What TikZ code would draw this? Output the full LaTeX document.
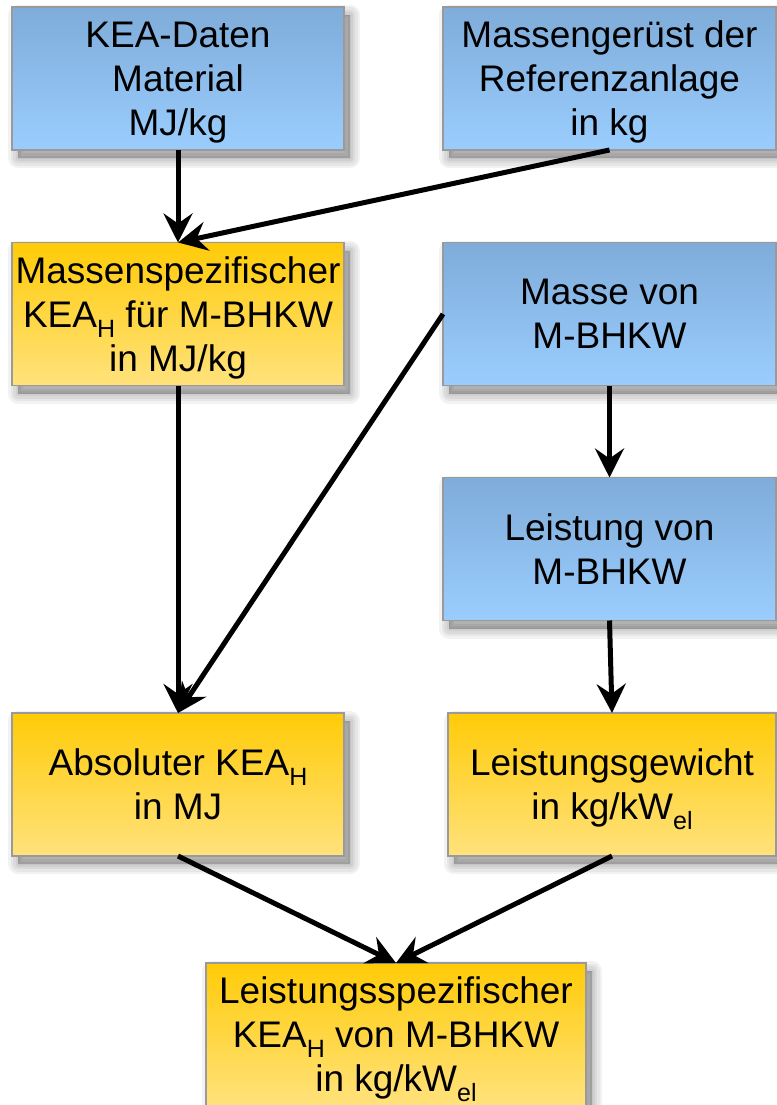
\documentclass[tikz,border=0pt]{standalone}
\usepackage{fontspec}
\setmainfont{Liberation Sans}
\usepackage{tikz}
\usetikzlibrary{arrows.meta}
\usepackage{xcolor}
\definecolor{BlauOben}{HTML}{7FACD9}
\definecolor{BlauUnten}{HTML}{9ACDFE}
\definecolor{GelbOben}{HTML}{FFCB08}
\definecolor{GelbUnten}{HTML}{FFE27C}
\definecolor{Rand}{HTML}{9A9A9A}
\newcommand{\idx}[1]{\raisebox{-10pt}{\fontsize{25}{25}\selectfont #1}}

\tikzset{
    schatten/.style={preaction={draw=black,fill=black,opacity=0.05,line width=#1,line join=round,
        transform canvas={shift={(6pt,-8pt)}}}},
}

\begin{document}
\begin{tikzpicture}[x=1pt,y=-1pt,
    kasten/.style={draw=Rand,line width=1.2pt,minimum height=143pt,inner sep=2pt,outer sep=0pt,
        align=center,font=\fontsize{37}{44}\selectfont,text depth=0pt,
        schatten=0.1pt,schatten=5pt,schatten=10pt,schatten=15pt,schatten=20pt},
    blau/.style={kasten,top color=BlauOben,bottom color=BlauUnten},
    gelb/.style={kasten,top color=GelbOben,bottom color=GelbUnten},
    pfeil/.style={line width=5pt,-{Stealth[length=29pt,width=29pt,inset=10pt]}}]
    \useasboundingbox (0,0) rectangle (776,1105);

    % Eingangsdaten
    \node[blau,minimum width=332pt] (kea) at (178,78.5) {KEA-Daten\\Material\\MJ/kg};
    \node[blau,minimum width=333pt] (geruest) at (609.5,78.5) {Massengerüst der\\Referenzanlage\\in kg};

    \node[gelb,minimum width=332pt] (spez) at (178,314) {Massenspezifischer\\KEA\idx{H} für M-BHKW\\in MJ/kg};
    \node[blau,minimum width=333pt] (masse) at (609.5,314) {Masse von\\M-BHKW};
    \node[blau,minimum width=333pt] (leistung) at (609.5,549) {Leistung von\\M-BHKW};

    \node[gelb,minimum width=332pt] (absolut) at (178,784.5) {Absoluter KEA\idx{H}\\in MJ};
    \node[gelb,minimum width=328pt] (gewicht) at (612,784.5) {Leistungsgewicht\\in kg/kW\idx{el}};

    % Ergebnis
    \node[gelb,minimum width=380pt] (ergebnis) at (396,1034.5) {Leistungsspezifischer\\KEA\idx{H} von M-BHKW\\in kg/kW\idx{el}};

    \draw[pfeil] (kea.south) -- (spez.north);
    \draw[pfeil] (geruest.south) -- (spez.north);
    \draw[pfeil] (spez.south) -- (absolut.north);
    \draw[pfeil] (masse.west) -- (absolut.north);
    \draw[pfeil] (masse.south) -- (leistung.north);
    \draw[pfeil] (leistung.south) -- (gewicht.north);
    \draw[pfeil] (absolut.south) -- (ergebnis.north);
    \draw[pfeil] (gewicht.south) -- (ergebnis.north);
\end{tikzpicture}
\end{document}
